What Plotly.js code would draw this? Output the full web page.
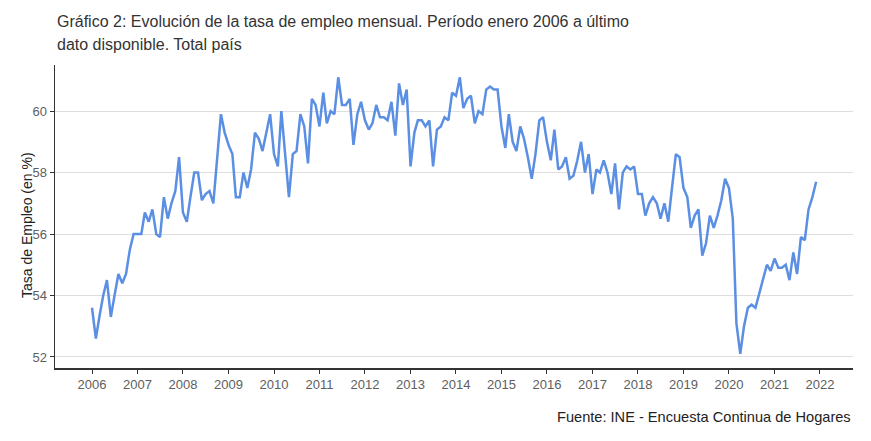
<!DOCTYPE html>
<html>
<head>
<meta charset="utf-8">
<script src="https://cdn.plot.ly/plotly-3.0.1.min.js"></script>
<style>html,body{margin:0;padding:0;background:#fff;}#chart{width:871px;height:441px;}</style>
</head>
<body>
<div id="chart"></div>
<script>
const startYear = 2006;
const y2006 = [53.6, 52.6, 53.3, 54.0, 54.5, 53.3, 54.0, 54.7, 54.4, 54.7, 55.5, 56.0];
const y2007 = [56.0, 56.0, 56.7, 56.4, 56.8, 56.0, 55.9, 57.2, 56.5, 57.0, 57.4, 58.5];
const y2008 = [56.7, 56.4, 57.2, 58.0, 58.0, 57.1, 57.3, 57.4, 57.0, 58.3, 59.9, 59.3];
const y2009 = [58.9, 58.6, 57.2, 57.2, 58.0, 57.5, 58.1, 59.3, 59.1, 58.7, 59.3, 59.9];
const y2010 = [58.6, 58.2, 60.0, 58.6, 57.2, 58.6, 58.7, 59.9, 59.5, 58.3, 60.4, 60.2];
const y2011 = [59.5, 60.6, 59.6, 60.0, 59.9, 61.1, 60.2, 60.2, 60.4, 58.9, 59.9, 60.3];
const y2012 = [59.7, 59.4, 59.6, 60.2, 59.8, 59.8, 59.7, 60.3, 59.2, 60.9, 60.2, 60.7];
const y2013 = [58.2, 59.3, 59.7, 59.7, 59.5, 59.7, 58.2, 59.4, 59.5, 59.8, 59.7, 60.6];
const y2014 = [60.5, 61.1, 60.1, 60.4, 60.5, 59.6, 60.0, 59.9, 60.7, 60.8, 60.7, 60.7];
const y2015 = [59.5, 58.8, 59.9, 59.0, 58.7, 59.5, 59.1, 58.5, 57.8, 58.6, 59.7, 59.8];
const y2016 = [59.0, 58.4, 59.4, 58.1, 58.2, 58.5, 57.8, 57.9, 58.4, 59.0, 58.0, 58.6];
const y2017 = [57.3, 58.1, 58.0, 58.4, 58.0, 57.3, 58.3, 56.8, 58.0, 58.2, 58.1, 58.2];
const y2018 = [57.3, 57.3, 56.6, 57.0, 57.2, 57.0, 56.5, 57.0, 56.4, 57.5, 58.6, 58.5];
const y2019 = [57.5, 57.2, 56.2, 56.6, 56.8, 55.3, 55.7, 56.6, 56.2, 56.6, 57.1, 57.8];
const y2020 = [57.5, 56.5, 53.1, 52.1, 53.0, 53.6, 53.7, 53.6, 54.1, 54.5, 55.0, 54.8];
const y2021 = [55.2, 54.9, 54.9, 55.0, 54.5, 55.4, 54.7, 55.9, 55.8, 56.8, 57.2, 57.7];

const yearly = [y2006,y2007,y2008,y2009,y2010,y2011,y2012,y2013,y2014,y2015,y2016,y2017,y2018,y2019,y2020,y2021];
const xTickYears = [2006,2007,2008,2009,2010,2011,2012,2013,2014,2015,2016,2017,2018,2019,2020,2021,2022];
const yTicks = [52,54,56,58,60];
const titleLines = ['Gráfico 2: Evolución de la tasa de empleo mensual. Período enero 2006 a último', 'dato disponible. Total país'];
const yTitle = 'Tasa de Empleo (en %)';
const sourceText = 'Fuente: INE - Encuesta Continua de Hogares';

const dates = [], vals = [];
yearly.forEach((arr, i) => {
  arr.forEach((v, m) => {
    dates.push((startYear + i) + '-' + String(m + 1).padStart(2, '0') + '-01');
    vals.push(v);
  });
});

const trace = {
  x: dates, y: vals, type: 'scatter', mode: 'lines',
  line: {color: '#5b8fe3', width: 2.5},
  hoverinfo: 'x+y'
};

const FONT = 'Liberation Sans, Arial, sans-serif';

const layout = {
  width: 871, height: 441,
  margin: {l: 55, r: 18, t: 65, b: 73},
  paper_bgcolor: '#ffffff', plot_bgcolor: '#ffffff',
  font: {family: FONT, color: '#666666'},
  xaxis: {
    type: 'date',
    range: ['2005-03-10', '2022-09-23'],
    tickvals: xTickYears.map(y => y + '-01-01'),
    ticktext: xTickYears.map(String),
    showgrid: false, zeroline: false,
    showline: true, linecolor: '#333333', linewidth: 1.5,
    ticks: 'outside', ticklen: 4, tickcolor: '#333333', tickwidth: 1,
    tickfont: {size: 13, color: '#5e5e5e'}
  },
  yaxis: {
    range: [51.64, 61.5],
    tickvals: yTicks,
    ticktext: yTicks.map(String),
    showgrid: true, gridcolor: '#dedede', gridwidth: 1,
    zeroline: false,
    showline: true, linecolor: '#333333', linewidth: 1.5,
    ticks: 'outside', ticklen: 4, tickcolor: '#333333', tickwidth: 1,
    tickfont: {size: 13, color: '#5e5e5e'}
  },
  annotations: [
    {text: titleLines[0], xref: 'paper', yref: 'paper', x: 0, y: 1.145, xanchor: 'left', yanchor: 'middle',
     showarrow: false, font: {size: 16, color: '#333333', family: FONT}},
    {text: titleLines[1], xref: 'paper', yref: 'paper', x: 0, y: 1.069, xanchor: 'left', yanchor: 'middle',
     showarrow: false, font: {size: 16, color: '#333333', family: FONT}},
    {text: yTitle, xref: 'paper', yref: 'paper', x: -0.0351, y: 0.472, xanchor: 'center', yanchor: 'middle',
     textangle: -90, showarrow: false, font: {size: 14, color: '#222222', family: FONT}},
    {text: sourceText, xref: 'paper', yref: 'paper', x: 1, y: -0.162, xanchor: 'right', yanchor: 'middle',
     showarrow: false, font: {size: 14.6, color: '#222222', family: FONT}}
  ],
  showlegend: false
};

Plotly.newPlot('chart', [trace], layout, {displayModeBar: false, staticPlot: true});
</script>
</body>
</html>
